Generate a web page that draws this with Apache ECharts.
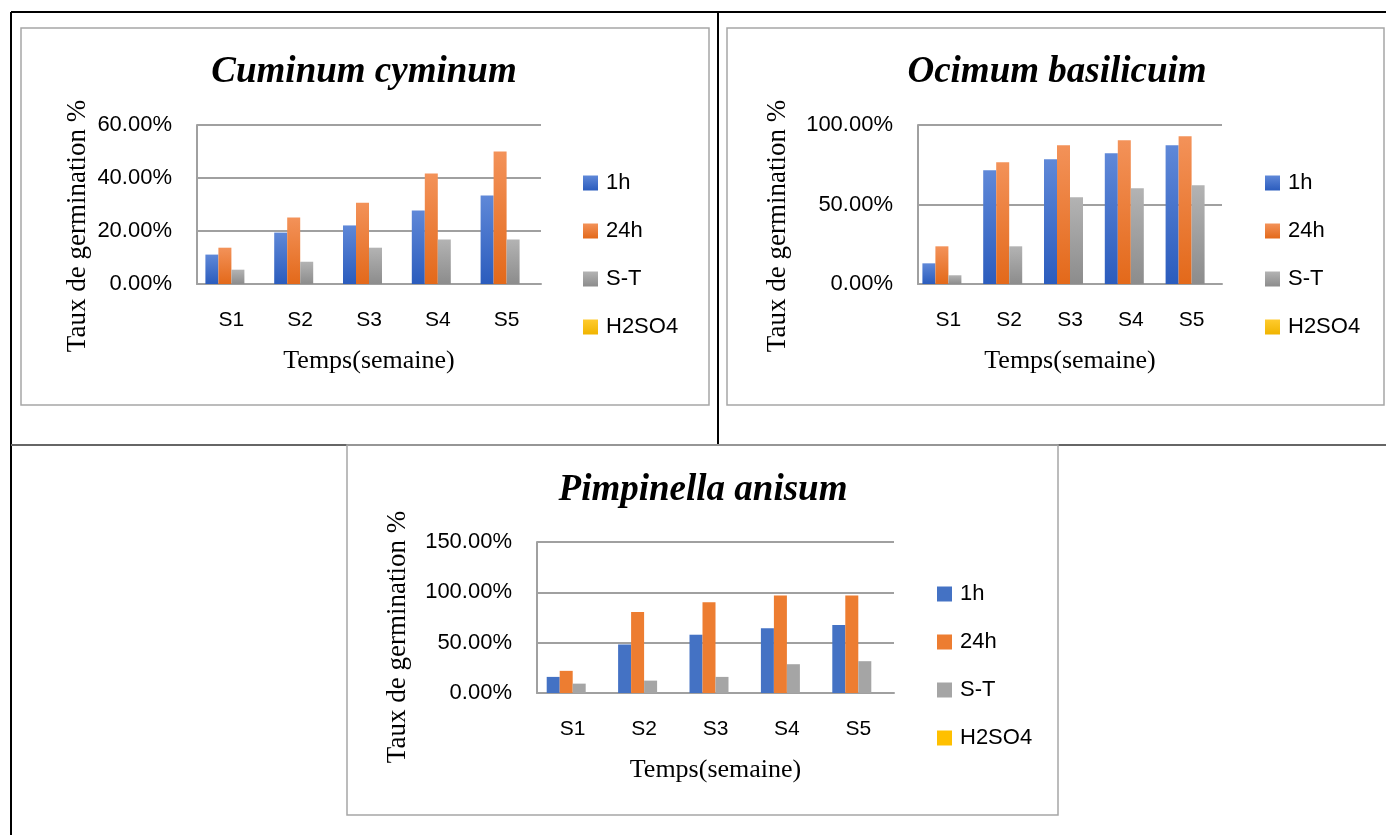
<!DOCTYPE html>
<html>
<head>
<meta charset="utf-8">
<script src="https://cdn.jsdelivr.net/npm/echarts@6/dist/echarts.min.js"></script>
<style>
  html, body { margin: 0; padding: 0; background: #fff; }
  #main { width: 1386px; height: 835px; }
</style>
</head>
<body>
<div id="main"></div>
<script>
// données (taux de germination en %)
const weeks = ["S1", "S2", "S3", "S4", "S5"];
const seriesNames = ["1h", "24h", "S-T", "H2SO4"];

const cuminum1h = [11.1, 19.4, 22.1, 27.7, 33.4];
const cuminum24h = [13.7, 25.1, 30.7, 41.7, 50.0];
const cuminumST = [5.4, 8.4, 13.7, 16.8, 16.8];
const cuminumH2SO4 = [0, 0, 0, 0, 0];

const ocimum1h = [13.0, 71.5, 78.4, 82.2, 87.2];
const ocimum24h = [23.7, 76.5, 87.2, 90.4, 92.9];
const ocimumST = [5.5, 23.7, 54.5, 60.2, 62.1];
const ocimumH2SO4 = [0, 0, 0, 0, 0];

const pimpinella1h = [16.0, 48.2, 57.9, 64.2, 67.5];
const pimpinella24h = [22.0, 80.5, 90.2, 96.8, 96.8];
const pimpinellaST = [9.3, 12.3, 16.0, 28.6, 31.6];
const pimpinellaH2SO4 = [0, 0, 0, 0, 0];

const cuminumTicks = [0, 60, 20];
const ocimumTicks = [0, 100, 50];
const pimpinellaTicks = [0, 150, 50];

let chart = echarts.init(document.getElementById("main"));

const serif = "'Liberation Serif', 'DejaVu Serif', serif";
const sans = "'Liberation Sans', Arial, sans-serif";
const axisGray = "#a0a0a0";

function grad(top, bottom) {
  return new echarts.graphic.LinearGradient(0, 0, 0, 1, [
    { offset: 0, color: top },
    { offset: 1, color: bottom },
  ]);
}
const gradColors = [
  grad("#5f88d8", "#2b5cbd"),
  grad("#f39259", "#e3691a"),
  grad("#b3b3b3", "#8c8c8c"),
  grad("#ffcb2e", "#f0b400"),
];
const flatColors = ["#4472c4", "#ed7d31", "#a5a5a5", "#ffc000"];

// positions des trois graphiques
const boxes = [
  { grid: { left: 197, top: 125, width: 344, height: 159 }, legend: { left: 578, top: 167 } },
  { grid: { left: 918, top: 125, width: 304, height: 159 }, legend: { left: 1260, top: 167 } },
  { grid: { left: 537, top: 542, width: 357, height: 151 }, legend: { left: 932, top: 578 } },
];
const ticks = [cuminumTicks, ocimumTicks, pimpinellaTicks];
const data = [
  [cuminum1h, cuminum24h, cuminumST, cuminumH2SO4],
  [ocimum1h, ocimum24h, ocimumST, ocimumH2SO4],
  [pimpinella1h, pimpinella24h, pimpinellaST, pimpinellaH2SO4],
];

let grids = [], xAxes = [], yAxes = [], legends = [], series = [];
boxes.forEach(function (b, i) {
  grids.push(b.grid);
  xAxes.push({
    type: "category",
    gridIndex: i,
    data: weeks,
    name: "Temps(semaine)",
    nameLocation: "middle",
    nameGap: 64,
    nameTextStyle: { fontFamily: serif, fontSize: 26, color: "#000" },
    axisLine: { lineStyle: { color: axisGray, width: 2 } },
    axisTick: { show: false },
    axisLabel: { margin: 26, fontFamily: sans, fontSize: 21, color: "#000" },
  });
  yAxes.push({
    type: "value",
    gridIndex: i,
    min: ticks[i][0],
    max: ticks[i][1],
    interval: ticks[i][2],
    axisLine: { show: true, lineStyle: { color: axisGray, width: 2 } },
    axisTick: { show: false },
    splitLine: { lineStyle: { color: axisGray, width: 2 } },
    axisLabel: {
      margin: 25,
      fontFamily: sans,
      fontSize: 22,
      color: "#000",
      formatter: function (v) { return v.toFixed(2) + "%"; },
    },
  });
  legends.push({
    orient: "vertical",
    left: b.legend.left,
    top: b.legend.top,
    itemWidth: 15,
    itemHeight: 15,
    itemGap: 26,
    icon: "rect",
    selectedMode: false,
    data: seriesNames.map(function (n, k) {
      return { name: n, itemStyle: { color: i === 2 ? flatColors[k] : gradColors[k] } };
    }),
    textStyle: { fontFamily: sans, fontSize: 22, color: "#000", padding: [0, 0, 0, 3] },
  });
  seriesNames.forEach(function (n, k) {
    series.push({
      name: n,
      type: "bar",
      xAxisIndex: i,
      yAxisIndex: i,
      data: data[i][k],
      barWidth: 13,
      barGap: "0%",
      itemStyle: { color: i === 2 ? flatColors[k] : gradColors[k] },
      emphasis: { disabled: true },
    });
  });
});

function frame(x, y, w, h) {
  return { type: "rect", shape: { x: x, y: y, width: w, height: h },
    style: { fill: null, stroke: "#a6a6a6", lineWidth: 1.5 }, silent: true };
}
function line(x1, y1, x2, y2, color) {
  return { type: "line", shape: { x1: x1, y1: y1, x2: x2, y2: y2 },
    style: { stroke: color, lineWidth: 2 }, silent: true };
}
function title(txt, x, y) {
  return { type: "text", x: x, y: y,
    style: { text: txt, fontFamily: serif, fontSize: 37, fontWeight: "bold", fontStyle: "italic",
      fill: "#000", align: "center", verticalAlign: "middle" }, silent: true };
}
function yName(x, y) {
  return { type: "text", x: x, y: y, rotation: Math.PI / 2,
    style: { text: "Taux de germination %", fontFamily: serif, fontSize: 27, fill: "#000",
      align: "center", verticalAlign: "middle" }, silent: true };
}

let option = {
  animation: false,
  color: flatColors,
  grid: grids,
  xAxis: xAxes,
  yAxis: yAxes,
  legend: legends,
  series: series,
  graphic: [
    // tableau
    line(11, 12, 1386, 12, "#000"),
    line(11, 12, 11, 835, "#000"),
    line(718, 12, 718, 445, "#000"),
    line(11, 445, 1386, 445, "#666"),
    // cadres des graphiques
    frame(21, 28, 688, 377),
    frame(727, 28, 657, 377),
    frame(347, 445, 711, 370),
    title("Cuminum cyminum", 364, 72),
    title("Ocimum basilicuim", 1057, 72),
    title("Pimpinella anisum", 703, 490),
    yName(78, 226),
    yName(778, 226),
    yName(398, 637),
  ],
};
chart.setOption(option);
window.onresize = function () {
  chart.resize();
};
</script>
</body>
</html>
